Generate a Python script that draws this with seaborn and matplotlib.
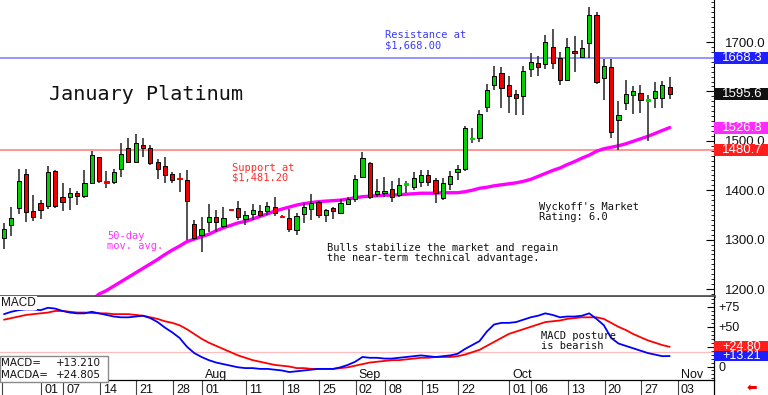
import matplotlib
matplotlib.use("Agg")
import matplotlib.pyplot as plt
import matplotlib.patches as mpatches
from matplotlib.lines import Line2D
from matplotlib.ticker import MultipleLocator, FuncFormatter
from matplotlib.transforms import blended_transform_factory
import numpy as np
import seaborn as sns

# daily OHLC, January platinum futures (Jun 23 - Oct 30)
opens = [1303, 1330, 1365, 1433, 1359, 1374, 1368, 1439, 1386, 1387,
         1394, 1388, 1414, 1467, 1417, 1416, 1444, 1485, 1458, 1491,
         1485, 1457, 1449, 1433, 1425, 1421, 1332, 1309, 1335, 1346,
         1328, 1361, 1365, 1342, 1351, 1358, 1357, 1367, 1347, 1344,
         1320, 1352, 1362, 1376, 1350, 1365, 1354, 1373, 1382, 1427,
         1455, 1392, 1394, 1402, 1390, 1412, 1406, 1417, 1431, 1421,
         1384, 1413, 1436, 1442, 1504, 1505, 1568, 1613, 1638, 1614,
         1595, 1591, 1645, 1657, 1656, 1689, 1667, 1624, 1682, 1669,
         1697, 1755, 1628, 1650, 1542, 1576, 1593, 1596, 1582, 1586,
         1586, 1608]
highs = [1333, 1366, 1444, 1444, 1390, 1380, 1449, 1441, 1414, 1404,
         1399, 1440, 1480, 1468, 1439, 1442, 1496, 1505, 1514, 1505,
         1492, 1463, 1467, 1436, 1434, 1441, 1340, 1346, 1372, 1360,
         1366, 1362, 1378, 1359, 1372, 1370, 1377, 1386, 1349, 1363,
         1353, 1374, 1392, 1379, 1363, 1367, 1382, 1387, 1431, 1478,
         1458, 1422, 1427, 1419, 1425, 1418, 1436, 1440, 1440, 1424,
         1424, 1438, 1451, 1530, 1525, 1562, 1615, 1651, 1650, 1631,
         1603, 1651, 1677, 1672, 1714, 1726, 1680, 1708, 1712, 1704,
         1770, 1761, 1665, 1665, 1581, 1623, 1611, 1613, 1593, 1620,
         1621, 1630]
lows = [1281, 1307, 1351, 1335, 1338, 1342, 1363, 1365, 1357, 1360,
        1370, 1385, 1412, 1415, 1404, 1413, 1427, 1455, 1455, 1468,
        1451, 1422, 1414, 1415, 1397, 1299, 1299, 1276, 1316, 1316,
        1323, 1359, 1340, 1330, 1340, 1345, 1350, 1348, 1344, 1316,
        1309, 1333, 1340, 1343, 1336, 1341, 1352, 1372, 1377, 1424,
        1382, 1386, 1387, 1377, 1386, 1394, 1400, 1407, 1409, 1375,
        1380, 1400, 1421, 1438, 1495, 1498, 1559, 1603, 1566, 1557,
        1552, 1552, 1629, 1631, 1645, 1645, 1613, 1623, 1640, 1667,
        1667, 1616, 1583, 1505, 1481, 1562, 1554, 1557, 1500, 1566,
        1566, 1585]
closes = [1321, 1343, 1419, 1355, 1345, 1361, 1436, 1368, 1376, 1394,
          1388, 1414, 1471, 1419, 1416, 1436, 1473, 1458, 1496, 1485,
          1455, 1442, 1431, 1421, 1423, 1378, 1303, 1321, 1345, 1336,
          1344, 1360, 1346, 1350, 1360, 1350, 1369, 1353, 1346, 1321,
          1348, 1367, 1374, 1350, 1360, 1359, 1374, 1382, 1422, 1465,
          1386, 1398, 1399, 1386, 1411, 1413, 1425, 1431, 1417, 1394,
          1415, 1429, 1444, 1525, 1506, 1554, 1603, 1631, 1606, 1591,
          1586, 1641, 1659, 1650, 1701, 1657, 1623, 1690, 1677, 1687,
          1755, 1620, 1651, 1518, 1552, 1595, 1601, 1583, 1583, 1601,
          1613, 1595.6]

nan = np.nan
ma_50 = [nan] * 12 + [
    1178, 1190, 1197, 1206, 1215, 1224, 1233, 1242, 1251, 1260,
    1270, 1279, 1287, 1296, 1301, 1306, 1311, 1318, 1324, 1329,
    1334, 1337, 1342, 1347, 1352, 1358, 1362, 1366, 1370, 1373,
    1375, 1377, 1378, 1379, 1380, 1382, 1385, 1387, 1388, 1389,
    1390, 1390, 1391, 1392, 1393, 1394, 1394, 1394, 1395, 1395,
    1395, 1397, 1400, 1404, 1406, 1409, 1411, 1413, 1415, 1418,
    1422, 1428, 1434, 1440, 1445, 1452, 1458, 1465, 1471, 1479,
    1484, 1487, 1490, 1494, 1499, 1504, 1509, 1515, 1521, 1526.8]

macd = [66, 69, 71, 72, 72, 71, 74, 73, 70, 68,
        67, 67, 69, 67, 65, 63, 62, 62, 63, 64,
        61, 56, 49, 43, 36, 25, 17, 12, 8, 5,
        3, 1, -1, -2, -2, -3, -3, -4, -5, -7,
        -6, -5, -4, -3, -3, -3, -1, 2, 6, 12,
        11, 11, 10, 10, 11, 12, 13, 14, 13, 12,
        13, 14, 16, 22, 27, 32, 44, 53, 55, 55,
        56, 59, 62, 64, 67, 65, 62, 63, 63, 64,
        67, 60, 52, 36, 29, 26, 23, 20, 17, 15,
        13, 13.21]
macd_avg = [59, 61, 63, 65, 66, 67, 68, 70, 70, 69,
            68, 68, 67.5, 67, 67, 66, 66, 66, 65, 64,
            62, 60, 57, 55, 52, 47, 41, 35, 30, 26,
            22, 18, 14, 11, 8, 6, 4, 2, 1, 0,
            -2, -2, -3, -3, -3, -3, -2, -1, 1, 3,
            5, 6, 7, 8, 8, 9, 10, 11, 11, 12,
            12, 12, 13, 15, 18, 21, 26, 31, 36, 41,
            44, 47, 50, 53, 56, 57, 58, 60, 61, 62,
            62, 62, 60, 55, 50, 46, 41, 37, 33, 30,
            27, 24.805]

tick_days = [6, 9, 14, 19, 24, 28, 34, 39, 44, 49, 53, 58, 63, 70, 73, 78, 83, 88, 93]
tick_labels = ["01", "07", "14", "21", "28", "01", "11", "18", "25", "02",
               "08", "15", "22", "01", "06", "13", "20", "27", "03"]
month_days = [28, 49, 70, 93]
month_labels = ["Aug", "Sep", "Oct", "Nov"]

resistance = 1668.3
support = 1480.7
macd_ref = 18
price_ticks = [1200, 1300, 1400, 1500, 1600, 1700]
price_hidden = [1600]          # label covered by the last-price tag
macd_ticks = [0, 25, 50, 75]
macd_hidden = [25]             # label covered by the MACDA tag

sns.set_theme(style="white")
plt.rcParams["font.family"] = ["Liberation Sans", "DejaVu Sans"]
MONO = "DejaVu Sans Mono"

W, H = 768, 395
fig = plt.figure(figsize=(W / 100, H / 100), dpi=100)


def px_axes(left, top, right, bottom):
    return fig.add_axes([left / W, 1 - bottom / H, (right - left) / W, (bottom - top) / H])


ax = px_axes(0, 0, 714, 296)
mx = px_axes(0, 297, 714, 380)
days = np.arange(len(closes))

# ---- price panel ----
o, h, l, c = (np.asarray(v, dtype=float) for v in (opens, highs, lows, closes))
up = c >= o
doji = np.abs(c - o) < 3
colors = np.where(up, "#00d000", "#ee0000")
edges = [col if d else "black" for col, d in zip(colors, doji)]
body_bottom = np.where(doji, (o + c) / 2 - 1.3, np.minimum(o, c))
body_height = np.where(doji, 2.6, np.abs(c - o))

ax.axhline(resistance, color="#8c8cff", lw=1.3, zorder=1)
ax.axhline(support, color="#ff8c8c", lw=1.3, zorder=1)
sns.lineplot(x=days, y=ma_50, ax=ax, color="#ff00ff", linewidth=2.4, zorder=1.5)
ax.vlines(days, l, h, color="#333333", lw=1.2, zorder=2)
ax.bar(days, body_height, bottom=body_bottom, width=0.58, color=colors,
       edgecolor=edges, linewidth=0.7, zorder=3)

ax.set_xlim(-0.55, 97.06)
ax.set_ylim(1186, 1785)
ax.set_xticks([])
ax.set_xlabel("")
ax.set_ylabel("")
ax.yaxis.tick_right()
ax.set_yticks(price_ticks)
ax.yaxis.set_major_formatter(
    FuncFormatter(lambda v, _: "" if round(v) in price_hidden else f"{v:.1f}"))
ax.yaxis.set_minor_locator(MultipleLocator(10))
ax.tick_params(axis="y", which="major", direction="in", length=6, width=0.8,
               color="black", pad=8, labelsize=9.5, labelcolor="#111111", right=True)
ax.tick_params(axis="y", which="minor", direction="in", length=2.5, width=0.6,
               color="black", right=True)
for side in ("left", "top"):
    ax.spines[side].set_visible(False)
ax.spines["right"].set_color("black")
ax.spines["right"].set_linewidth(0.8)
ax.spines["bottom"].set_color("#555555")
ax.spines["bottom"].set_linewidth(2)

ax.text(6.2, 1593, "January Platinum", family=MONO, fontsize=14.5,
        color="#111111", va="center", ha="left")
ax.text(52.1, 1724, "Resistance at\n$1,668.00", family=MONO, fontsize=7.5,
        color="#3a3aff", va="top", linespacing=1.0)
ax.text(31.2, 1456, "Support at\n$1,481.20", family=MONO, fontsize=7.5,
        color="#ff2a2a", va="top", linespacing=1.0)
ax.text(14.1, 1318, "50-day\nmov. avg.", family=MONO, fontsize=7.5,
        color="#ff33ff", va="top", linespacing=1.0)
ax.text(44.2, 1294, "Bulls stabilize the market and regain\nthe near-term technical advantage.",
        family=MONO, fontsize=7.5, color="#111111", va="top", linespacing=1.0)
ax.text(73.1, 1377, "Wyckoff's Market\nRating: 6.0", family=MONO, fontsize=7.5,
        color="#111111", va="top", linespacing=1.0)


def price_tag(axis, value, text, color, half, fontsize=9.5):
    trans = blended_transform_factory(axis.transAxes, axis.transData)
    axis.add_patch(mpatches.Rectangle((1.0, value - half), 54 / 714, 2 * half,
                                      transform=trans, facecolor=color, edgecolor="none",
                                      clip_on=False, zorder=6))
    axis.text(1.0 + 8 / 714, value, text, transform=trans, color="white",
              fontsize=fontsize, va="center", ha="left", clip_on=False, zorder=7)


price_tag(ax, resistance, "1668.3", "#1e1eff", 12)
price_tag(ax, closes[-1], f"{closes[-1]:.1f}", "#111111", 12)
price_tag(ax, ma_50[-1], f"{ma_50[-1]:.1f}", "#ff2cff", 12)
price_tag(ax, support, "1480.7", "#ff1e1e", 12)

# ---- MACD panel ----
mx.axhline(macd_ref, color="#ffbcbc", lw=0.9, zorder=1)
sns.lineplot(x=days, y=macd_avg, ax=mx, color="#ff0000", linewidth=1.3, zorder=2)
sns.lineplot(x=days, y=macd, ax=mx, color="#0000ff", linewidth=1.3, zorder=3)
mx.set_xlim(-0.55, 97.06)
mx.set_ylim(-17, 87.6)
mx.set_xlabel("")
mx.set_ylabel("")
mx.yaxis.tick_right()
mx.set_yticks(macd_ticks)
mx.yaxis.set_major_formatter(FuncFormatter(
    lambda v, _: "" if round(v) in macd_hidden else ("0" if v == 0 else f"+{v:.0f}")))
mx.yaxis.set_minor_locator(MultipleLocator(5))
mx.tick_params(axis="y", which="major", direction="in", length=5, width=0.8,
               color="black", pad=3, labelsize=9, labelcolor="#111111", right=True)
mx.tick_params(axis="y", which="minor", direction="in", length=2.5, width=0.6,
               color="black", right=True)
mx.set_xticks([d - 0.9 for d in tick_days])
mx.set_xticklabels([])
mx.tick_params(axis="x", direction="out", length=11, width=0.8, color="#444444", bottom=True)
mx.spines["top"].set_visible(False)
mx.spines["left"].set_visible(False)
for side in ("bottom", "right"):
    mx.spines[side].set_color("black")
    mx.spines[side].set_linewidth(0.9)

for d, lab in zip(tick_days, tick_labels):
    mx.annotate(lab, xy=(d - 0.5, 0), xycoords=("data", "axes fraction"),
                xytext=(0, -3), textcoords="offset points", ha="left", va="top",
                fontsize=9, color="#111111", annotation_clip=False)
for d, lab in zip(month_days, month_labels):
    mx.annotate(lab, xy=(d - 0.5, 0), xycoords=("data", "axes fraction"),
                xytext=(0, 1.5), textcoords="offset points", ha="left", va="baseline",
                fontsize=9, color="#111111", annotation_clip=False)

mx.text(0.002, 0.93, "MACD", transform=mx.transAxes, fontsize=8.5, color="#111111",
        va="center", ha="left", zorder=5,
        bbox=dict(boxstyle="square,pad=0.1", facecolor="white", edgecolor="none"))
mx.text(73.4, 45, "MACD posture\nis bearish", family=MONO, fontsize=7.5,
        color="#111111", va="top", linespacing=1.0)

mx.add_patch(mpatches.Rectangle((0, -0.024), 0.151, 0.313, transform=mx.transAxes,
                                facecolor="white", edgecolor="#8a8a8a", lw=1,
                                clip_on=False, zorder=6))
for yy, name, val in ((0.205, "MACD=", macd[-1]), (0.06, "MACDA=", macd_avg[-1])):
    mx.text(0.001, yy, name, transform=mx.transAxes, fontsize=7.5, va="center",
            ha="left", color="#111111", zorder=7, family=["DejaVu Sans"])
    mx.text(0.142, yy, f"{val:+.3f}", transform=mx.transAxes, fontsize=7.5,
            va="center", ha="right", color="#111111", zorder=7, family=["DejaVu Sans"])

price_tag(mx, macd_avg[-1], f"{macd_avg[-1]:+.2f}", "#ff1e1e", 6.8, fontsize=9)
price_tag(mx, macd[-1], f"{macd[-1]:+.2f}", "#1e1eff", 6.8, fontsize=9)

fig.add_artist(Line2D([714 / W, 714 / W], [0, 15 / H], color="black", lw=0.9))
fig.add_artist(Line2D([2 / W, 2 / W], [0, 12 / H], color="#444444", lw=0.8))
fig.text(752 / W, 1 - 389 / H, "\u2b05", color="#ee0000", fontsize=9,
         ha="center", va="center", family=["DejaVu Sans"])

fig.savefig("out.png", dpi=100)
